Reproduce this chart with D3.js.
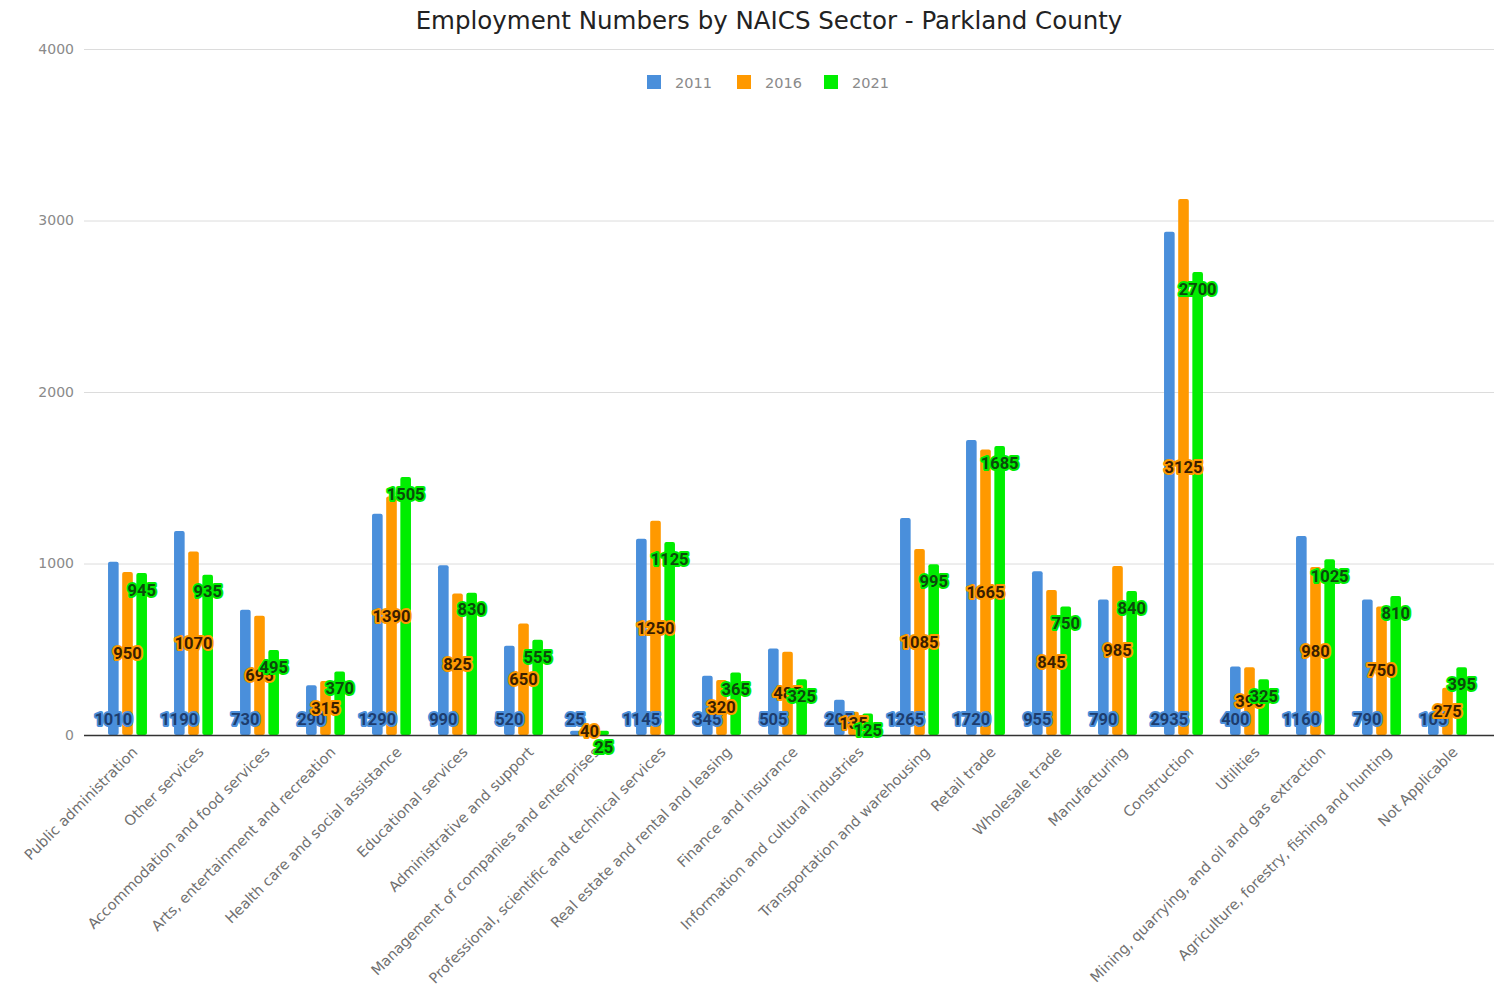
<!DOCTYPE html>
<html lang="en">
<head>
<meta charset="utf-8" />
<title>Employment Numbers by NAICS Sector - Parkland County</title>
<script src="https://d3js.org/d3.v7.min.js"></script>
<style>
  body { margin: 0; background: #fff; }
  svg { font-family: "DejaVu Sans", Arial, sans-serif; }
  .grid line { stroke: #dcdcdc; }
  .grid path { display: none; }
  .y.axis text { fill: #8a8a8a; font-size: 14px; font-family: "DejaVu Sans", sans-serif; }
  .x.axis text { fill: #707070; font-size: 14.5px; font-family: "DejaVu Sans", sans-serif; }
  .lbl { font-family: Roboto, "Liberation Sans", sans-serif; font-weight: bold; font-size: 16.5px; paint-order: stroke; stroke-width: 4px; stroke-linejoin: round; }
</style>
</head>
<body>
<script>
  const sectors = [
    "Public administration",
    "Other services",
    "Accommodation and food services",
    "Arts, entertainment and recreation",
    "Health care and social assistance",
    "Educational services",
    "Administrative and support",
    "Management of companies and enterprises",
    "Professional, scientific and technical services",
    "Real estate and rental and leasing",
    "Finance and insurance",
    "Information and cultural industries",
    "Transportation and warehousing",
    "Retail trade",
    "Wholesale trade",
    "Manufacturing",
    "Construction",
    "Utilities",
    "Mining, quarrying, and oil and gas extraction",
    "Agriculture, forestry, fishing and hunting",
    "Not Applicable"
  ];
  const years = ["2011", "2016", "2021"];
  const v2011 = [1010, 1190, 730, 290, 1290, 990, 520, 25, 1145, 345, 505, 205, 1265, 1720, 955, 790, 2935, 400, 1160, 790, 105];
  const v2016 = [950, 1070, 695, 315, 1390, 825, 650, 40, 1250, 320, 485, 135, 1085, 1665, 845, 985, 3125, 395, 980, 750, 275];
  const v2021 = [945, 935, 495, 370, 1505, 830, 555, 25, 1125, 365, 325, 125, 995, 1685, 750, 840, 2700, 325, 1025, 810, 395];
  const yTicks = [0, 1000, 2000, 3000, 4000];

  const colors = ["#4a8fdb", "#ff9900", "#00ee00"];
  const textColors = ["#1d3d6e", "#3a1e00", "#0b4a0b"];

  const W = 1494, H = 997;
  const margin = { top: 49, left: 94.5, right: 13.5, bottom: 262 };
  const plotBottom = H - margin.bottom; // 735

  const svg = d3.select("body").append("svg").attr("width", W).attr("height", H);

  const x0 = d3.scaleBand().domain(sectors).range([margin.left, W - margin.right]).paddingInner(0.41).paddingOuter(0.205);
  const x1 = d3.scaleBand().domain(years).range([0, x0.bandwidth()]).paddingInner(0.25);
  const y = d3.scaleLinear().domain([0, 4000]).range([plotBottom, margin.top]);

  // title
  svg.append("text").attr("x", 769).attr("y", 29).attr("text-anchor", "middle")
    .attr("font-size", 24.5).attr("fill", "#222").text("Employment Numbers by NAICS Sector - Parkland County");

  // gridlines
  svg.append("g").attr("class", "grid").attr("transform", "translate(84,0)")
    .call(d3.axisLeft(y).tickValues(yTicks).tickSize(-(W - 84)).tickFormat(""));

  // y axis labels
  const gy = svg.append("g").attr("class", "y axis").attr("transform", "translate(74,0)")
    .call(d3.axisLeft(y).tickValues(yTicks).tickSize(0).tickPadding(0).tickFormat(d3.format("d")));
  gy.select(".domain").remove();

  // legend
  const legend = svg.append("g").attr("transform", "translate(647,75)");
  const legX = [0, 90, 177];
  years.forEach((yr, i) => {
    const lg = legend.append("g").attr("transform", `translate(${legX[i]},0)`);
    lg.append("rect").attr("width", 14).attr("height", 14).attr("fill", colors[i]);
    lg.append("text").attr("x", 28).attr("y", 12.5).attr("font-size", 14.5).attr("fill", "#8a8a8a").text(yr);
  });

  const series = [v2011, v2016, v2021];
  const rows = sectors.map((s, i) => ({ sector: s, vals: series.map(a => a[i]) }));

  // bars
  const groups = svg.append("g").selectAll("g").data(rows).join("g")
    .attr("transform", d => `translate(${x0(d.sector)},0)`);
  groups.selectAll("rect").data(d => d.vals.map((v, k) => ({ v, k }))).join("rect")
    .attr("x", d => x1(years[d.k]))
    .attr("width", x1.bandwidth())
    .attr("y", d => y(d.v))
    .attr("height", d => plotBottom - y(d.v))
    .attr("rx", 2)
    .attr("fill", d => colors[d.k]);

  // baseline
  svg.append("line").attr("x1", 84).attr("x2", W).attr("y1", plotBottom + 0.5).attr("y2", plotBottom + 0.5)
    .attr("stroke", "#333").attr("stroke-width", 1.3);

  // x axis labels
  const gx = svg.append("g").attr("class", "x axis").attr("transform", `translate(0,${plotBottom})`)
    .call(d3.axisBottom(x0).tickSize(0));
  gx.select(".domain").remove();
  gx.selectAll("text")
    .attr("text-anchor", "end")
    .attr("dy", 0)
    .attr("y", 0)
    .attr("transform", "translate(11,18) rotate(-45)");

  // data labels, one layer per series
  years.forEach((yr, k) => {
    svg.append("g").selectAll("text").data(rows).join("text")
      .attr("class", "lbl")
      .attr("x", d => x0(d.sector) + x1(yr) + x1.bandwidth() / 2)
      .attr("y", d => {
        const v = d.vals[k];
        if (k === 0) return plotBottom - 16;
        if (k === 1) return (y(v) + plotBottom) / 2;
        return y(v) + 17;
      })
      .attr("dy", "0.35em")
      .attr("text-anchor", "middle")
      .attr("fill", textColors[k])
      .attr("stroke", colors[k])
      .text(d => d.vals[k]);
  });
</script>
</body>
</html>
